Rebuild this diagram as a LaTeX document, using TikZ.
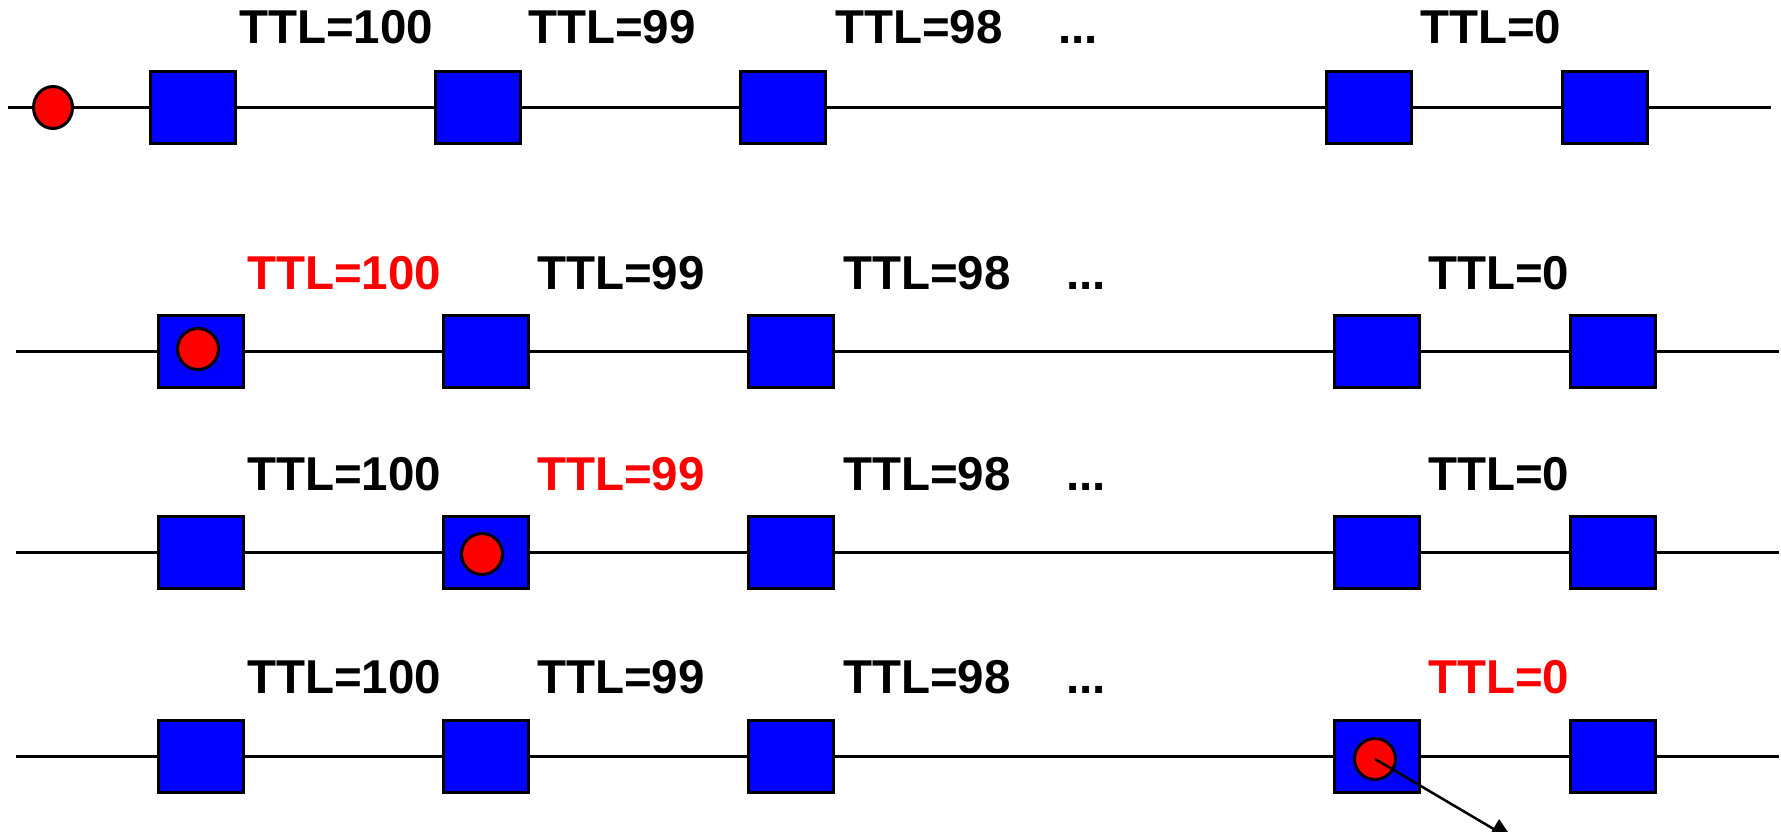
\documentclass[tikz,border=0pt]{standalone}
\usepackage{fontspec}
\setmainfont{Liberation Sans}
\usetikzlibrary{arrows.meta,shapes.geometric}
\definecolor{pktred}{RGB}{255,0,0}
\definecolor{hopblue}{RGB}{0,0,255}
\begin{document}
\begin{tikzpicture}[x=1pt,y=-1pt,
  router/.style={shape=rectangle, draw=black, line width=3pt, fill=hopblue,
    minimum width=85pt, minimum height=72pt, inner sep=0pt, outer sep=0pt},
  packet/.style={shape=circle, draw=black, line width=3pt, fill=pktred,
    minimum size=41pt, inner sep=0pt, outer sep=0pt},
  wire/.style={line width=3pt},
  ttl/.style={anchor=base west, inner sep=0pt, outer sep=0pt,
    font=\fontsize{47.5}{56}\selectfont\bfseries},
  hot/.style={text=pktred}]
\useasboundingbox (0,0) rectangle (1781,832);
\clip (0,0) rectangle (1781,832);

% routers of the four rows
\foreach \r/\ly/\dx in {1/107.5/0, 2/351/8, 3/552/8, 4/756.5/8} {
  \foreach \k/\cx in {a/193, b/478, c/783, d/1369, e/1605}
    \node[router] (s\r\k) at (\cx+\dx, \ly) {};
  \coordinate (w\r s) at (8+\dx, \ly);
  \coordinate (w\r e) at (1771+\dx, \ly);
}

% packet before the first router
\node[shape=ellipse, draw=black, line width=3pt, fill=pktred,
  minimum width=39pt, minimum height=42pt, inner sep=0pt, outer sep=0pt] (p1) at (53,107.5) {};

% links
\draw[wire] (w1s) -- (p1.west) (p1.east) -- (s1a.west)
  (s1a.east) -- (s1b.west) (s1b.east) -- (s1c.west)
  (s1c.east) -- (s1d.west) (s1d.east) -- (s1e.west) (s1e.east) -- (w1e);
\foreach \r in {2,3,4}
  \draw[wire] (w\r s) -- (s\r a.west) (s\r a.east) -- (s\r b.west)
    (s\r b.east) -- (s\r c.west) (s\r c.east) -- (s\r d.west)
    (s\r d.east) -- (s\r e.west) (s\r e.east) -- (w\r e);

% packet inside a router
\node[packet] (p2) at (198,349) {};
\node[packet] (p3) at (482,554) {};
\node[packet] (p4) at (1375,759) {};

% TTL labels
\node[ttl] (t1a) at (239,44) {TTL=100};
\node[ttl] (t1b) at (528,44) {TTL=99};
\node[ttl] (t1c) at (835,44) {TTL=98};
\node[ttl] (t1d) at (1058,44) {...};
\node[ttl] (t1e) at (1420,44) {TTL=0};

\node[ttl,hot] (t2a) at (247,289) {TTL=100};
\node[ttl] (t2b) at (537,289) {TTL=99};
\node[ttl] (t2c) at (843,289) {TTL=98};
\node[ttl] (t2d) at (1066,289) {...};
\node[ttl] (t2e) at (1428,289) {TTL=0};

\node[ttl] (t3a) at (247,490) {TTL=100};
\node[ttl,hot] (t3b) at (537,490) {TTL=99};
\node[ttl] (t3c) at (843,490) {TTL=98};
\node[ttl] (t3d) at (1066,490) {...};
\node[ttl] (t3e) at (1428,490) {TTL=0};

\node[ttl] (t4a) at (247,693) {TTL=100};
\node[ttl] (t4b) at (537,693) {TTL=99};
\node[ttl] (t4c) at (843,693) {TTL=98};
\node[ttl] (t4d) at (1066,693) {...};
\node[ttl,hot] (t4e) at (1428,693) {TTL=0};

% expired packet leaves the path
\coordinate (drop) at (1514,841);
\draw[line width=2.5pt, -{Triangle[length=24pt,width=22pt]}] (p4.center) -- (drop);
\end{tikzpicture}
\end{document}
